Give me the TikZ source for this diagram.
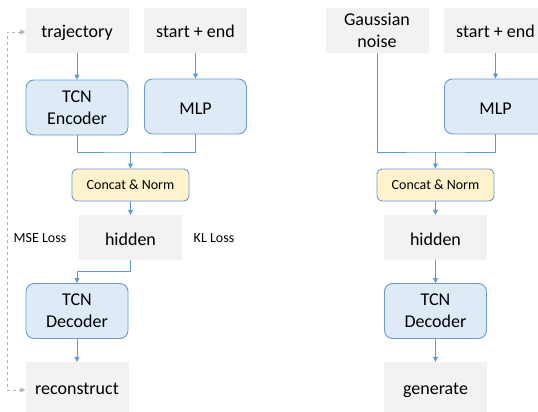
\documentclass[tikz,border=0pt]{standalone}
\usepackage{fontspec}
\setmainfont{Carlito}
\usetikzlibrary{arrows.meta}
\definecolor{grayfill}{HTML}{F2F2F2}
\definecolor{bluefill}{HTML}{DEEBF7}
\definecolor{blueedge}{HTML}{6A9AD0}
\definecolor{yellowfill}{HTML}{FFF2CC}
\definecolor{arrowblue}{HTML}{5B9BD5}
\begin{document}
\begin{tikzpicture}[x=1pt,y=-1pt,
  graybox/.style={fill=grayfill,draw=none,minimum width=103pt,minimum height=45pt,inner sep=0pt,align=center,font=\fontsize{18}{22}\selectfont},
  oneline/.style={text height=15pt,text depth=0pt},
  bluebox/.style={fill=bluefill,draw=blueedge,line width=0.9pt,rounded corners=8pt,minimum width=102pt,minimum height=55pt,inner sep=0pt,align=center,font=\fontsize{18}{22}\selectfont},
  catbox/.style={fill=yellowfill,draw=blueedge,line width=0.9pt,rounded corners=5pt,minimum width=117pt,minimum height=32pt,inner sep=0pt,font=\fontsize{14}{16}\selectfont},
  conn/.style={draw=arrowblue,line width=0.8pt},
  arr/.style={conn,-{Triangle[width=5pt,length=5pt]}},
  loss/.style={font=\fontsize{14}{16}\selectfont},
  dasharr/.style={draw=black!30,dashed,line width=0.9pt,{Triangle[width=5pt,length=5pt]}-{Triangle[width=5pt,length=5pt]}}
]
\useasboundingbox (0,0) rectangle (538,412);
\clip (0,0) rectangle (538,412);
% left column
\node[graybox,oneline] (traj) at (77,30.5) {trajectory};
\node[graybox,oneline] (se1) at (195.5,30.5) {start + end};
\node[bluebox] (enc) at (77,107.5) {TCN\\Encoder};
\node[bluebox,oneline] (mlp1) at (195.5,106.5) {MLP};
\node[catbox] (cat1) at (130.5,185) {Concat \& Norm};
\node[graybox,oneline] (hid1) at (130.5,237.5) {hidden};
\node[loss] (mse) at (40,238) {MSE Loss};
\node[loss] (kl) at (214,238) {KL Loss};
\node[bluebox] (dec1) at (77,311) {TCN\\Decoder};
\node[graybox,oneline,minimum height=50pt] (rec) at (77,387) {reconstruct};
\coordinate (j1) at (130.5,152);
\draw[arr] (traj.south) -- (enc.north);
\draw[arr] (se1.south) -- (mlp1.north);
\draw[conn] (enc.south) |- (j1) -| (mlp1.south);
\draw[arr] (j1) -- (cat1.north);
\draw[arr] (cat1.south) -- (hid1.north);
\draw[arr] (hid1.south) -- ++(0,11) -| (dec1.north);
\draw[arr] (dec1.south) -- (rec.north);
\coordinate (dl) at (7,32);
\draw[dasharr] ([yshift=-1.5pt]traj.west) -- (dl) |- ([yshift=-3pt]rec.west);
% right column
\node[graybox] (gn) at (377,30.5) {Gaussian\\noise};
\node[graybox,oneline] (se2) at (495.5,30.5) {start + end};
\node[bluebox,oneline] (mlp2) at (495.5,106.5) {MLP};
\node[catbox] (cat2) at (435.5,185) {Concat \& Norm};
\node[graybox,oneline] (hid2) at (435.5,237.5) {hidden};
\node[bluebox] (dec2) at (435.5,311) {TCN\\Decoder};
\node[graybox,oneline,minimum height=50pt] (gen) at (435.5,387) {generate};
\coordinate (j2) at (435.5,152);
\draw[arr] (se2.south) -- (mlp2.north);
\draw[conn] (gn.south) |- (j2) -| (mlp2.south);
\draw[arr] (j2) -- (cat2.north);
\draw[arr] (cat2.south) -- (hid2.north);
\draw[arr] (hid2.south) -- (dec2.north);
\draw[arr] (dec2.south) -- (gen.north);
\end{tikzpicture}
\end{document}
